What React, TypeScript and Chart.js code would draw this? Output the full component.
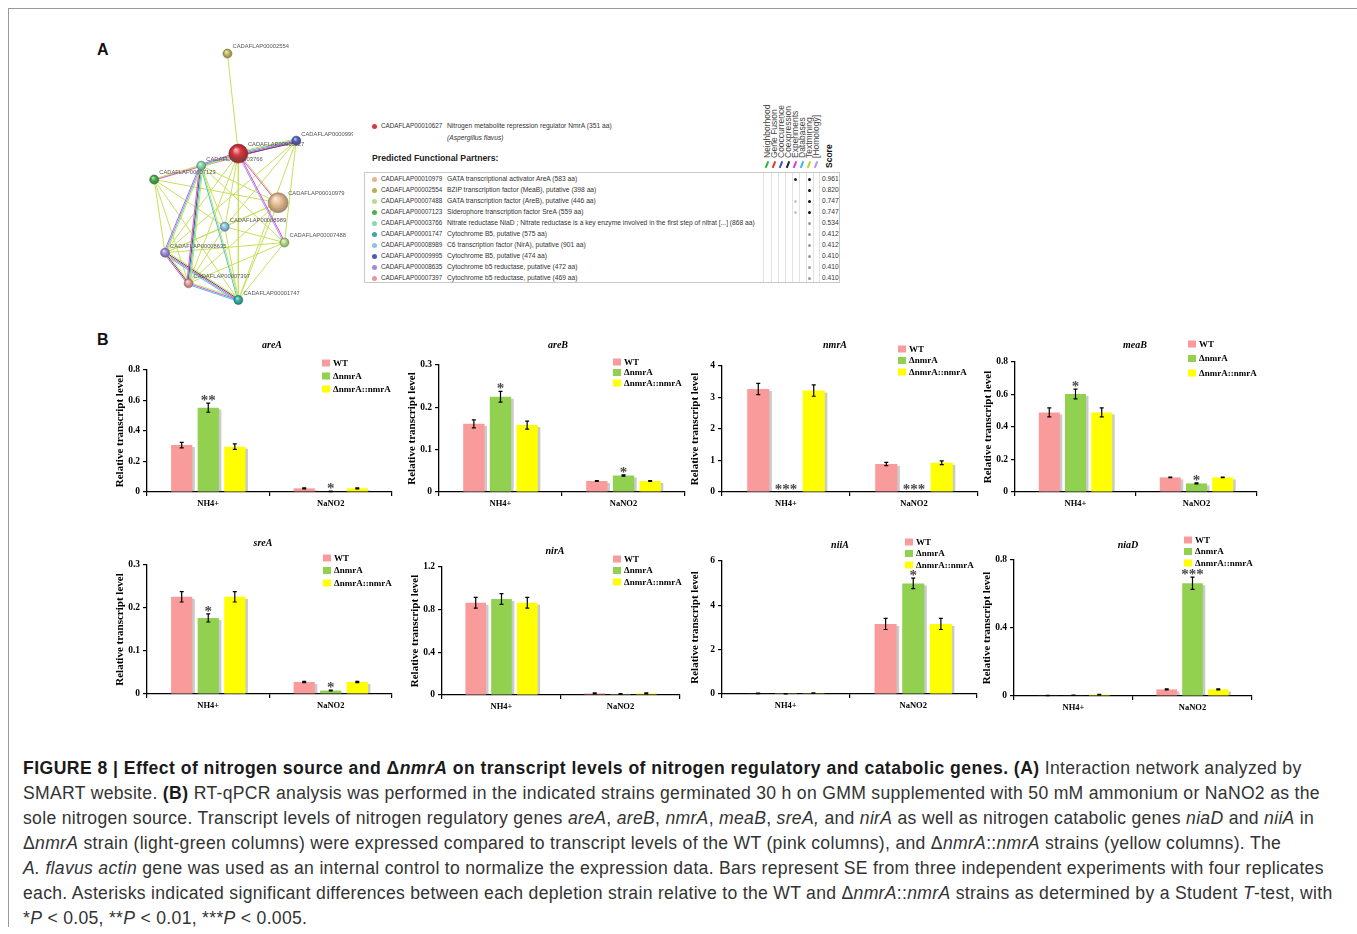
import React, { useEffect, useRef } from 'react';
import { Chart, registerables } from 'chart.js';

Chart.register(...registerables);

const SERIF = '"Liberation Serif", "Times New Roman", serif';
const SANS = '"Liberation Sans", Arial, Helvetica, sans-serif';

// ---------------- Panel B data ----------------
const categories = ['NH4+', 'NaNO2'];
const strainLabels = ['WT', 'ΔnmrA', 'ΔnmrA::nmrA'];
const strainColors = ['#fa9b9b', '#92d050', '#ffff00'];

// rows: WT, ΔnmrA, ΔnmrA::nmrA ; columns: NH4+, NaNO2
const areAValues = [[0.308, 0.024], [0.553, 0.004], [0.297, 0.024]];
const areAErrors = [[0.018, 0.003], [0.03, 0.002], [0.018, 0.003]];
const areASig = [['', ''], ['**', '*'], ['', '']];
const areATicks = [0, 0.2, 0.4, 0.6, 0.8];

const areBValues = [[0.161, 0.026], [0.225, 0.039], [0.158, 0.026]];
const areBErrors = [[0.0095, 0.001], [0.0125, 0.0015], [0.0095, 0.001]];
const areBSig = [['', ''], ['*', '*'], ['', '']];
const areBTicks = [0, 0.1, 0.2, 0.3];

const nmrAValues = [[3.27, 0.89], [0, 0], [3.22, 0.93]];
const nmrAErrors = [[0.18, 0.05], [0, 0], [0.18, 0.06]];
const nmrASig = [['', ''], ['***', '***'], ['', '']];
const nmrATicks = [0, 1, 2, 3, 4];

const meaBValues = [[0.49, 0.09], [0.603, 0.053], [0.49, 0.09]];
const meaBErrors = [[0.028, 0.002], [0.03, 0.003], [0.028, 0.002]];
const meaBSig = [['', ''], ['*', '*'], ['', '']];
const meaBTicks = [0, 0.2, 0.4, 0.6, 0.8];

const sreAValues = [[0.226, 0.028], [0.177, 0.008], [0.226, 0.028]];
const sreAErrors = [[0.012, 0.0015], [0.0095, 0.001], [0.012, 0.0015]];
const sreASig = [['', ''], ['*', '*'], ['', '']];
const sreATicks = [0, 0.1, 0.2, 0.3];

const nirAValues = [[0.865, 0.015], [0.9, 0.01], [0.865, 0.015]];
const nirAErrors = [[0.05, 0.005], [0.05, 0.004], [0.05, 0.005]];
const nirASig = [['', ''], ['', ''], ['', '']];
const nirATicks = [0, 0.4, 0.8, 1.2];

const niiAValues = [[0.03, 3.16], [0.01, 4.99], [0.04, 3.16]];
const niiAErrors = [[0.01, 0.25], [0.005, 0.24], [0.01, 0.25]];
const niiASig = [['', ''], ['', '*'], ['', '']];
const niiATicks = [0, 2, 4, 6];

const niaDValues = [[0.003, 0.039], [0.004, 0.663], [0.008, 0.039]];
const niaDErrors = [[0.001, 0.003], [0.001, 0.036], [0.002, 0.003]];
const niaDSig = [['', ''], ['', '***'], ['', '']];
const niaDTicks = [0, 0.4, 0.8];

const panels = [
  { gene: 'areA', values: areAValues, errors: areAErrors, sig: areASig, ticks: areATicks },
  { gene: 'areB', values: areBValues, errors: areBErrors, sig: areBSig, ticks: areBTicks },
  { gene: 'nmrA', values: nmrAValues, errors: nmrAErrors, sig: nmrASig, ticks: nmrATicks },
  { gene: 'meaB', values: meaBValues, errors: meaBErrors, sig: meaBSig, ticks: meaBTicks },
  { gene: 'sreA', values: sreAValues, errors: sreAErrors, sig: sreASig, ticks: sreATicks },
  { gene: 'nirA', values: nirAValues, errors: nirAErrors, sig: nirASig, ticks: nirATicks },
  { gene: 'niiA', values: niiAValues, errors: niiAErrors, sig: niiASig, ticks: niiATicks },
  { gene: 'niaD', values: niaDValues, errors: niaDErrors, sig: niaDSig, ticks: niaDTicks },
];

// layout of each panel (plot area edges on the page, title / legend offsets)
const panelBoxes = [
  { L: 147, R: 392, T: 370, B: 492, tdx: 2.5, tdy: -25, ldx: -70, ldy: -7, lgap: 13 },
  { L: 439, R: 685, T: 365, B: 492, tdx: -4, tdy: -20, ldx: -72, ldy: -3, lgap: 10.5 },
  { L: 722, R: 978, T: 366, B: 492, tdx: -15, tdy: -21, ldx: -80, ldy: -17, lgap: 11.5 },
  { L: 1015, R: 1257, T: 362, B: 492, tdx: -1, tdy: -17, ldx: -69, ldy: -18, lgap: 14.5 },
  { L: 147, R: 392, T: 565, B: 694, tdx: -6.5, tdy: -22, ldx: -69, ldy: -7, lgap: 12.5 },
  { L: 442, R: 680, T: 567, B: 695, tdx: -6, tdy: -16, ldx: -67, ldy: -8, lgap: 11.5 },
  { L: 722, R: 977, T: 561, B: 694, tdx: -9.5, tdy: -16, ldx: -72, ldy: -19, lgap: 11.5 },
  { L: 1014, R: 1252, T: 560, B: 696, tdx: -5, tdy: -15, ldx: -68, ldy: -20, lgap: 11.5 },
];

// ---------------- Panel A data ----------------
const nodeIds = ['10627', '2554', '9995', '3766', '7123', '10979', '8989', '7488', '8635', '7397', '1747'];
const nodeX = [108, 96, 172, 67, 15, 152, 93, 159, 27, 53, 108];
const nodeY = [122, 14, 108, 135, 150, 175, 201, 218, 229, 262, 280];
const nodeRadius = [9.5, 4.5, 4.5, 4.5, 4.5, 10, 4.5, 4.5, 4.5, 4.5, 4.5];
const nodeColors = ['#d9363e', '#c5bd62', '#5b63c8', '#88dcb0', '#4caf50', '#e8c096', '#8cc8ee', '#b8e08c', '#a58fe0', '#e4a4a4', '#3cb4a8'];

// t textmining, e experiments, d databases, c coexpression, h homology
const edgeList: [string, string, string][] = [
  ['2554', '10627', 't'], ['10627', '9995', 'tdec'], ['10627', '3766', 'tde'], ['3766', '9995', 'te'],
  ['7123', '3766', 'te'], ['10627', '10979', 'te'], ['10627', '7488', 'eh'], ['3766', '8635', 'tde'],
  ['3766', '7397', 'tdce'], ['3766', '1747', 'td'], ['8635', '7397', 'tce'], ['8635', '1747', 'tced'],
  ['7397', '1747', 'ted'], ['10627', '8989', 't'], ['10627', '8635', 't'], ['10627', '7397', 't'],
  ['10627', '1747', 't'], ['10627', '7123', 't'], ['3766', '10979', 't'], ['3766', '7488', 't'],
  ['3766', '8989', 't'], ['7123', '8635', 't'], ['7123', '7397', 't'], ['7123', '1747', 't'],
  ['7123', '8989', 't'], ['7123', '10979', 't'], ['9995', '7488', 't'], ['9995', '8989', 't'],
  ['9995', '1747', 't'], ['9995', '8635', 't'], ['10979', '8989', 't'], ['10979', '8635', 't'],
  ['10979', '1747', 't'], ['10979', '7397', 't'], ['8989', '8635', 't'], ['8989', '7397', 't'],
  ['8989', '1747', 't'], ['8989', '7488', 't'], ['8635', '7488', 't'], ['7488', '1747', 't'],
  ['7488', '7397', 't'],
];
const edgeColors: Record<string, string> = { t: '#c6e05a', e: '#e04fe0', d: '#3fc6e6', c: '#505050', h: '#a99cf0' };

const partnerIds = ['10979', '02554', '07488', '07123', '03766', '01747', '08989', '09995', '08635', '07397'];
const partnerDesc = [
  'GATA transcriptional activator AreA (583 aa)',
  'BZIP transcription factor (MeaB), putative (398 aa)',
  'GATA transcription factor (AreB), putative (446 aa)',
  'Siderophore transcription factor SreA (559 aa)',
  'Nitrate reductase NiaD ; Nitrate reductase is a key enzyme involved in the first step of nitrat [...] (868 aa)',
  'Cytochrome B5, putative (575 aa)',
  'C6 transcription factor (NirA), putative (901 aa)',
  'Cytochrome B5, putative (474 aa)',
  'Cytochrome b5 reductase, putative (472 aa)',
  'Cytochrome b5 reductase, putative (469 aa)',
];
const partnerScores = ['0.961', '0.820', '0.747', '0.747', '0.534', '0.412', '0.412', '0.410', '0.410', '0.410'];
const partnerColors = ['#e8b48e', '#b8ae52', '#b6dc8a', '#4caf50', '#8ad8b0', '#3aa89c', '#8cc4ea', '#5058b8', '#a08ada', '#e09a9a'];
const experimentsEvidence = [2, 0, 1, 1, 0, 0, 0, 0, 0, 0];
const textminingEvidence = [2, 2, 2, 2, 1, 1, 1, 1, 1, 1];
const evidenceHeaders = ['Neighborhood', 'Gene Fusion', 'Cooccurrence', 'Coexpression', 'Experiments', 'Databases', 'Textmining', '[Homology]'];
const evidenceColors = ['#2fb43a', '#e5322d', '#3a4fd8', '#222222', '#d63bd6', '#35b8e0', '#b9d430', '#a99cf0'];

// ---------------- helpers ----------------
function shade(hex: string, f: number) {
  const n = parseInt(hex.slice(1), 16);
  let r = (n >> 16) & 255, g = (n >> 8) & 255, b = n & 255;
  const t = f < 0 ? 0 : 255; const p = Math.abs(f);
  r = Math.round((t - r) * p + r); g = Math.round((t - g) * p + g); b = Math.round((t - b) * p + b);
  return `rgb(${r},${g},${b})`;
}

function makeDecor(p: any, box: any) {
  return {
    id: 'decor',
    beforeDatasetsDraw(chart: any) {
      const { ctx, chartArea } = chart;
      ctx.save();
      ctx.beginPath();
      ctx.rect(chartArea.left + 1, 0, chartArea.right - chartArea.left + 10, chartArea.bottom - 0.7);
      ctx.clip();
      ctx.fillStyle = 'rgba(150,150,150,0.5)';
      chart.data.datasets.forEach((_: any, i: number) => {
        chart.getDatasetMeta(i).data.forEach((bar: any) => {
          const w = bar.width, h = bar.base - bar.y;
          if (!(h >= 0.8)) return;
          ctx.fillRect(bar.x - w / 2 + 2.5, bar.y + 2, w, h);
        });
      });
      ctx.restore();
    },
    afterDatasetsDraw(chart: any) {
      const { ctx, chartArea } = chart;
      const ys = chart.scales.y;
      ctx.save();
      chart.data.datasets.forEach((_: any, i: number) => {
        chart.getDatasetMeta(i).data.forEach((bar: any, j: number) => {
          const v = p.values[i][j], e = p.errors[i][j];
          const yTop = ys.getPixelForValue(v + e);
          if (e > 0) {
            const yBot = ys.getPixelForValue(Math.max(0, v - e));
            ctx.strokeStyle = '#000';
            ctx.lineWidth = 1.2;
            ctx.beginPath();
            ctx.moveTo(bar.x, yTop); ctx.lineTo(bar.x, yBot);
            ctx.moveTo(bar.x - 2, yTop); ctx.lineTo(bar.x + 2, yTop);
            ctx.moveTo(bar.x - 2, yBot); ctx.lineTo(bar.x + 2, yBot);
            ctx.stroke();
          }
          const s = p.sig[i][j];
          if (s) {
            ctx.fillStyle = '#4a4a4a';
            ctx.font = `bold 15px ${SERIF}`;
            ctx.textAlign = 'center';
            ctx.textBaseline = 'alphabetic';
            ctx.fillText(s, bar.x, yTop + 2);
          }
        });
      });
      // title
      ctx.fillStyle = '#000';
      ctx.font = `italic bold 10px ${SERIF}`;
      ctx.textAlign = 'center';
      ctx.textBaseline = 'middle';
      ctx.fillText(p.gene, (chartArea.left + chartArea.right) / 2 + box.tdx, chartArea.top + box.tdy);
      // legend
      ctx.textAlign = 'left';
      ctx.font = `bold 9px ${SERIF}`;
      strainLabels.forEach((lab, i) => {
        const x = chartArea.right + box.ldx;
        const y = chartArea.top + box.ldy + i * box.lgap;
        ctx.fillStyle = strainColors[i];
        ctx.fillRect(x, y - 3.5, 8, 7);
        ctx.fillStyle = '#000';
        ctx.fillText(lab, x + 11, y + 0.5);
      });
      ctx.restore();
    },
  };
}

function BarPanel({ p, box }: any) {
  const ref = useRef<HTMLCanvasElement | null>(null);
  const LEFT = 36, TOP = 30, RIGHT = 16, BOTTOM = 24;
  const w = box.R - box.L + LEFT + RIGHT;
  const h = box.B - box.T + TOP + BOTTOM;
  useEffect(() => {
    const ticks: number[] = p.ticks;
    const chart = new Chart(ref.current as HTMLCanvasElement, {
      type: 'bar',
      data: {
        labels: categories,
        datasets: strainLabels.map((lab, i) => ({
          label: lab,
          data: p.values[i],
          backgroundColor: strainColors[i],
          borderWidth: 0,
          categoryPercentage: 0.65,
          barPercentage: 0.8,
        })),
      },
      options: {
        responsive: false,
        animation: false,
        events: [],
        layout: { padding: { left: 0, top: TOP, right: RIGHT, bottom: 0 } },
        plugins: { legend: { display: false }, tooltip: { enabled: false } },
        scales: {
          x: {
            type: 'category',
            offset: true,
            grid: { offset: true, drawOnChartArea: false, color: '#000', tickLength: 4, lineWidth: 1.2 },
            border: { color: '#000', width: 1.3 },
            ticks: { color: '#000', font: { family: SERIF, weight: 'bold', size: 8.5 }, padding: 3, maxRotation: 0 },
            afterFit: (s: any) => { s.height = BOTTOM; },
          },
          y: {
            min: 0,
            max: ticks[ticks.length - 1],
            afterBuildTicks: (s: any) => { s.ticks = ticks.map((v) => ({ value: v })); },
            grid: { drawOnChartArea: false, color: '#000', tickLength: 4, lineWidth: 1.2 },
            border: { color: '#000', width: 1.3 },
            ticks: { color: '#000', font: { family: SERIF, weight: 'bold', size: 9.5 }, padding: 3, callback: (v: any) => String(v) },
            title: { display: true, text: 'Relative transcript level', color: '#000', font: { family: SERIF, weight: 'bold', size: 11 }, padding: { top: 3, bottom: 0 } },
            afterFit: (s: any) => { s.width = LEFT; },
          },
        },
      } as any,
      plugins: [makeDecor(p, box)],
    });
    return () => chart.destroy();
  }, []);
  return (
    <canvas
      ref={ref}
      width={w}
      height={h}
      style={{ position: 'absolute', left: box.L - LEFT, top: box.T - TOP, width: w, height: h }}
    />
  );
}

const netLabels = {
  id: 'netLabels',
  afterDatasetsDraw(chart: any) {
    const { ctx } = chart;
    ctx.save();
    ctx.font = `5.8px ${SANS}`;
    ctx.fillStyle = '#555';
    ctx.textBaseline = 'middle';
    ctx.textAlign = 'left';
    nodeIds.forEach((id, i) => {
      const px = chart.scales.x.getPixelForValue(nodeX[i]);
      const py = chart.scales.y.getPixelForValue(nodeY[i]);
      const r = nodeRadius[i];
      ctx.fillText('CADAFLAP000' + id.padStart(5, '0'), px + 0.9 * r + 1, py - (0.5 * r + 4.5));
    });
    ctx.restore();
  },
};

function NetworkChart() {
  const ref = useRef<HTMLCanvasElement | null>(null);
  const W = 223, H = 288;
  useEffect(() => {
    const idx = (id: string) => nodeIds.indexOf(id);
    const datasets: any[] = [];
    datasets.push({
      data: nodeIds.map((_, i) => ({ x: nodeX[i], y: nodeY[i] })),
      showLine: false,
      pointRadius: nodeRadius,
      pointBorderWidth: 0.6,
      pointBorderColor: nodeColors.map((c) => shade(c, -0.35)),
      pointBackgroundColor: (ctx: any) => {
        const i = ctx.dataIndex;
        const ch = ctx.chart;
        const base = nodeColors[i];
        if (i === undefined || !ch.scales || !ch.scales.x || !ch.scales.y) return base;
        const px = ch.scales.x.getPixelForValue(nodeX[i]);
        const py = ch.scales.y.getPixelForValue(nodeY[i]);
        const r = nodeRadius[i];
        if (!isFinite(px) || !isFinite(py)) return base;
        const g = ch.ctx.createRadialGradient(px - r * 0.3, py - r * 0.45, 0, px, py, r);
        g.addColorStop(0, shade(base, 0.75));
        g.addColorStop(0.45, base);
        g.addColorStop(1, shade(base, -0.3));
        return g;
      },
    });
    edgeList.forEach(([a, b, types]) => {
      const i = idx(a), j = idx(b);
      const dx = nodeX[j] - nodeX[i], dy = nodeY[j] - nodeY[i];
      const len = Math.hypot(dx, dy) || 1;
      const nx = -dy / len, ny = dx / len;
      const n = types.length;
      types.split('').forEach((t, k) => {
        const off = (k - (n - 1) / 2) * 1.3;
        datasets.push({
          data: [
            { x: nodeX[i] + nx * off, y: nodeY[i] + ny * off },
            { x: nodeX[j] + nx * off, y: nodeY[j] + ny * off },
          ],
          showLine: true,
          borderColor: edgeColors[t],
          borderWidth: 1,
          pointRadius: 0,
        });
      });
    });
    const chart = new Chart(ref.current as HTMLCanvasElement, {
      type: 'scatter',
      data: { datasets },
      options: {
        responsive: false,
        animation: false,
        events: [],
        layout: { padding: 0 },
        plugins: { legend: { display: false }, tooltip: { enabled: false } },
        scales: {
          x: { type: 'linear', min: 0, max: W, display: false },
          y: { type: 'linear', min: 0, max: H, reverse: true, display: false },
        },
      } as any,
      plugins: [netLabels],
    });
    return () => chart.destroy();
  }, []);
  return <canvas ref={ref} width={W} height={H} style={{ position: 'absolute', left: 130, top: 30, width: W, height: H }} />;
}

function PartnerTable() {
  const t: React.CSSProperties = { position: 'absolute', fontFamily: SANS, fontSize: 6.7, lineHeight: '8px', color: '#333', whiteSpace: 'nowrap' };
  const tid: React.CSSProperties = { ...t, fontSize: 6.3 };
  const colX = [763, 771, 778, 785, 792, 799, 806, 813, 819];
  const headX = [767, 774, 781, 788, 795, 802, 809, 816];
  const els: any[] = [];
  els.push(<div key="hd" style={{ position: 'absolute', left: 371.5, top: 123.5, width: 5, height: 5, borderRadius: 3, background: '#d9363e' }} />);
  els.push(<div key="hid" style={{ ...tid, left: 381, top: 122 }}>CADAFLAP00010627</div>);
  els.push(<div key="hdesc" style={{ ...t, left: 447, top: 122 }}>Nitrogen metabolite repression regulator NmrA (351 aa)</div>);
  els.push(<div key="hsp" style={{ ...t, left: 447, top: 134, fontStyle: 'italic' }}>(Aspergillus flavus)</div>);
  els.push(<div key="pfp" style={{ ...t, left: 372, top: 153, fontSize: 8.7, lineHeight: '10px', fontWeight: 'bold', color: '#222' }}>Predicted Functional Partners:</div>);
  evidenceHeaders.forEach((hname, i) => {
    els.push(
      <div key={'eh' + i} style={{ position: 'absolute', left: headX[i] - 4, top: 158, width: 0, height: 0 }}>
        <span style={{ position: 'absolute', left: 0, top: 0, transform: 'rotate(-90deg)', transformOrigin: '0 0', fontFamily: SANS, fontSize: 8.5, lineHeight: '8px', color: '#444', whiteSpace: 'nowrap' }}>{hname}</span>
      </div>
    );
    els.push(<div key={'es' + i} style={{ position: 'absolute', left: headX[i] - 0.8, top: 160.5, width: 1.6, height: 7, background: evidenceColors[i], transform: 'rotate(22deg)' }} />);
  });
  els.push(
    <div key="score" style={{ position: 'absolute', left: 825, top: 168, width: 0, height: 0 }}>
      <span style={{ position: 'absolute', left: 0, top: 0, transform: 'rotate(-90deg)', transformOrigin: '0 0', fontFamily: SANS, fontSize: 8.5, lineHeight: '8px', fontWeight: 'bold', color: '#111', whiteSpace: 'nowrap' }}>Score</span>
    </div>
  );
  els.push(<div key="box" style={{ position: 'absolute', left: 364, top: 172, width: 476, height: 111, border: '1px solid #c8c8c8', boxSizing: 'border-box' }} />);
  colX.forEach((x, i) => {
    els.push(<div key={'cl' + i} style={{ position: 'absolute', left: x, top: 173, width: 1, height: 109, background: '#e2e2e2' }} />);
  });
  partnerIds.forEach((id, r) => {
    const cy = 179 + r * 11;
    els.push(<div key={'pd' + r} style={{ position: 'absolute', left: 372, top: cy - 2.5, width: 5, height: 5, borderRadius: 3, background: partnerColors[r] }} />);
    els.push(<div key={'pi' + r} style={{ ...tid, left: 381, top: cy - 4 }}>{'CADAFLAP000' + id}</div>);
    els.push(<div key={'pt' + r} style={{ ...t, left: 447, top: cy - 4 }}>{partnerDesc[r]}</div>);
    els.push(<div key={'ps' + r} style={{ ...t, left: 822, top: cy - 4 }}>{partnerScores[r]}</div>);
    const ex = experimentsEvidence[r];
    if (ex) els.push(<div key={'ex' + r} style={{ position: 'absolute', left: 794, top: cy - 1.5, width: 3, height: 3, borderRadius: 2, background: ex === 2 ? '#222' : '#c8c8c8' }} />);
    const tm = textminingEvidence[r];
    if (tm) els.push(<div key={'tm' + r} style={{ position: 'absolute', left: 808, top: cy - 1.5, width: 3, height: 3, borderRadius: 2, background: tm === 2 ? '#111' : '#9a9a9a' }} />);
  });
  return <>{els}</>;
}

function Caption() {
  const line: React.CSSProperties = { height: 25, whiteSpace: 'nowrap' };
  const b = (s: any) => <b style={{ color: '#1a1a1a', letterSpacing: '0.45px' }}>{s}</b>;
  return (
    <div style={{ position: 'absolute', left: 23, top: 756, fontFamily: SANS, fontSize: 17.6, letterSpacing: '0.3px', lineHeight: '25px', color: '#333' }}>
      <div style={line}>{b(<>FIGURE 8 | Effect of nitrogen source and Δ<i>nmrA</i> on transcript levels of nitrogen regulatory and catabolic genes. (A)</>)} Interaction network analyzed by</div>
      <div style={line}>SMART website. {b('(B)')} RT-qPCR analysis was performed in the indicated strains germinated 30 h on GMM supplemented with 50 mM ammonium or NaNO2 as the</div>
      <div style={line}>sole nitrogen source. Transcript levels of nitrogen regulatory genes <i>areA</i>, <i>areB</i>, <i>nmrA</i>, <i>meaB</i>, <i>sreA,</i> and <i>nirA</i> as well as nitrogen catabolic genes <i>niaD</i> and <i>niiA</i> in</div>
      <div style={line}>Δ<i>nmrA</i> strain (light-green columns) were expressed compared to transcript levels of the WT (pink columns), and Δ<i>nmrA</i>::<i>nmrA</i> strains (yellow columns). The</div>
      <div style={line}><i>A. flavus actin</i> gene was used as an internal control to normalize the expression data. Bars represent SE from three independent experiments with four replicates</div>
      <div style={line}>each. Asterisks indicated significant differences between each depletion strain relative to the WT and Δ<i>nmrA</i>::<i>nmrA</i> strains as determined by a Student <i>T</i>-test, with</div>
      <div style={line}>*<i>P</i> &lt; 0.05, **<i>P</i> &lt; 0.01, ***<i>P</i> &lt; 0.005.</div>
    </div>
  );
}

export default function App() {
  return (
    <div style={{ position: 'absolute', left: 0, top: 0, width: 1357, height: 934, overflow: 'hidden', background: '#fff' }}>
      <div style={{ position: 'absolute', left: 8, top: 8, width: 1349, height: 919, borderLeft: '1px solid #999', borderTop: '1px solid #999', boxSizing: 'border-box' }} />
      <div style={{ position: 'absolute', left: 97, top: 42, fontFamily: SANS, fontWeight: 'bold', fontSize: 16, lineHeight: '16px', color: '#111' }}>A</div>
      <div style={{ position: 'absolute', left: 97, top: 332, fontFamily: SANS, fontWeight: 'bold', fontSize: 16, lineHeight: '16px', color: '#111' }}>B</div>
      <NetworkChart />
      <PartnerTable />
      {panels.map((p, i) => (
        <BarPanel key={p.gene} p={p} box={panelBoxes[i]} />
      ))}
      <Caption />
    </div>
  );
}
